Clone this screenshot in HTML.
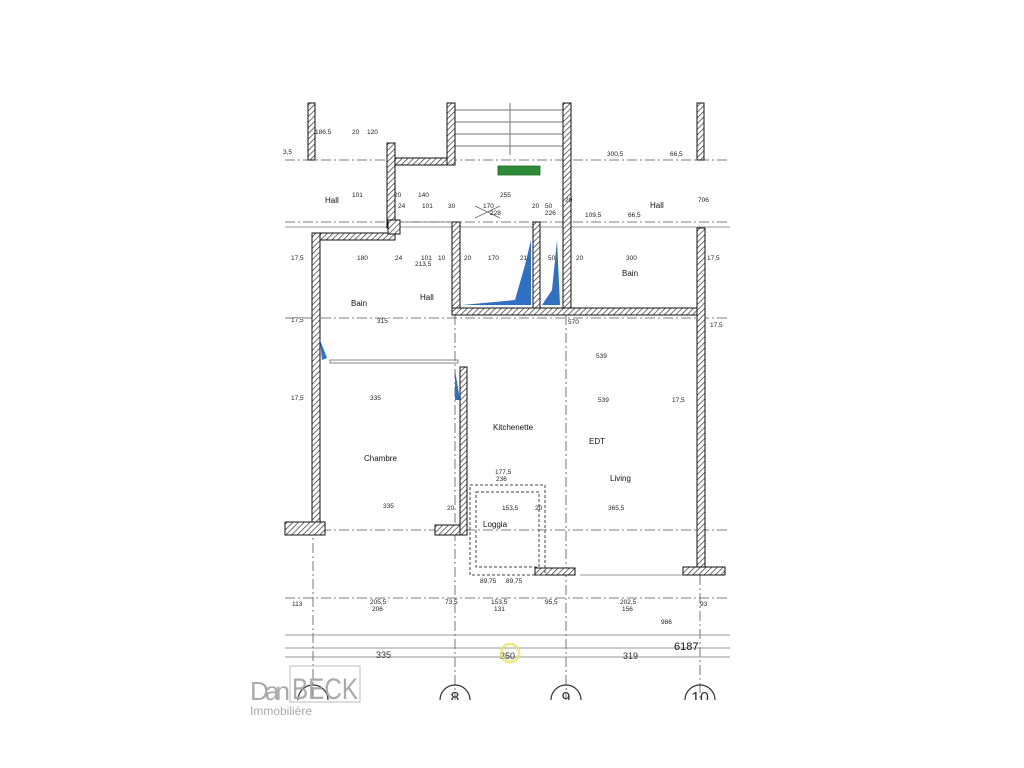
<!DOCTYPE html>
<html><head><meta charset="utf-8"><style>
body{margin:0;background:#fff;}
svg{display:block;font-family:"Liberation Sans",sans-serif;}
</style></head><body>
<svg width="1024" height="768" viewBox="0 0 1024 768" xmlns="http://www.w3.org/2000/svg">
<defs>
<pattern id="h" width="4" height="4" patternUnits="userSpaceOnUse" patternTransform="rotate(45)">
<rect width="4" height="4" fill="#fff"/><line x1="0" y1="0" x2="0" y2="4" stroke="#333" stroke-width="1.4"/></pattern>
</defs>
<rect width="1024" height="768" fill="#fff"/>
<!-- grid dash-dot lines -->
<g stroke="#555" stroke-width="0.8" stroke-dasharray="10,3,2,3" fill="none">
<line x1="313" y1="525" x2="313" y2="700"/>
<line x1="455" y1="315" x2="455" y2="700"/>
<line x1="566" y1="315" x2="566" y2="700"/>
<line x1="700" y1="575" x2="700" y2="700"/>
<line x1="285" y1="160" x2="730" y2="160"/>
<line x1="285" y1="222" x2="730" y2="222"/>
<line x1="285" y1="318" x2="730" y2="318"/>
<line x1="285" y1="530" x2="730" y2="530"/>
<line x1="285" y1="598" x2="730" y2="598"/>
</g>
<g stroke="#777" stroke-width="0.8">
<line x1="285" y1="635" x2="730" y2="635"/>
<line x1="285" y1="648" x2="730" y2="648"/>
<line x1="285" y1="657" x2="730" y2="657"/>
<line x1="285" y1="227" x2="730" y2="227"/>
<line x1="580" y1="575" x2="700" y2="575"/>
</g>
<!-- stairs -->
<g stroke="#777" stroke-width="1">
<line x1="455" y1="110" x2="563" y2="110"/><line x1="455" y1="122" x2="563" y2="122"/>
<line x1="455" y1="134" x2="563" y2="134"/><line x1="455" y1="146" x2="563" y2="146"/>
<line x1="510" y1="103" x2="510" y2="155"/>
</g>
<!-- walls -->
<g fill="url(#h)" stroke="#111" stroke-width="1">
<rect x="308" y="103" width="7" height="57"/>
<rect x="387" y="143" width="8" height="85"/>
<rect x="395" y="158" width="60" height="7"/>
<rect x="447" y="103" width="8" height="62"/>
<rect x="563" y="103" width="8" height="212"/>
<rect x="697" y="103" width="7" height="57"/>
<rect x="313" y="233" width="82" height="7"/>
<rect x="312" y="233" width="8" height="292"/>
<rect x="388" y="220" width="12" height="14"/>
<rect x="452" y="222" width="8" height="93"/>
<rect x="533" y="222" width="7" height="86"/>
<rect x="452" y="308" width="253" height="7"/>
<rect x="697" y="228" width="8" height="340"/>
<rect x="460" y="367" width="7" height="168"/>
<rect x="285" y="522" width="40" height="13"/>
<rect x="435" y="525" width="25" height="10"/>
<rect x="535" y="568" width="40" height="7"/>
<rect x="683" y="567" width="42" height="8"/>
</g>
<!-- blue shapes -->
<g fill="#2f6fc4">
<path d="M462 305 L515 300 L525 265 L531 240 L531 305 Z"/>
<path d="M542 305 L552 290 L557 240 L560 305 Z"/>
<path d="M320 340 L327 358 L322 360 Z"/>
<path d="M455 370 L460 400 L455 400 Z"/>
</g>
<!-- loggia dashed -->
<g stroke="#444" stroke-dasharray="3,2" fill="none" stroke-width="1">
<rect x="470" y="485" width="75" height="90"/>
<rect x="476" y="492" width="63" height="75"/>
</g>
<!-- misc lines -->
<g stroke="#666" stroke-width="0.8" fill="none">
<rect x="330" y="360" width="128" height="3"/>
<line x1="400" y1="222" x2="452" y2="222"/>
<line x1="475" y1="206" x2="500" y2="218"/>
<line x1="475" y1="218" x2="500" y2="206"/>
<rect x="498" y="166" width="42" height="9" fill="#2e8b3a" stroke="#1d6b28"/>
</g>
<!-- labels -->
<g font-size="8" fill="#111">
<text x="325" y="203">Hall</text>
<text x="650" y="208">Hall</text>
<text x="622" y="276">Bain</text>
<text x="351" y="306">Bain</text>
<text x="420" y="300">Hall</text>
<text x="364" y="461">Chambre</text>
<text x="493" y="430">Kitchenette</text>
<text x="610" y="481">Living</text>
<text x="483" y="527">Loggia</text>
<text x="589" y="444">EDT</text>
</g>
<g font-size="6.5" fill="#222">
<text x="315" y="134">186,5</text><text x="352" y="134">20</text><text x="367" y="134">120</text>
<text x="283" y="154">3,5</text><text x="607" y="156">300,5</text><text x="670" y="156">66,5</text>
<text x="352" y="197">101</text><text x="394" y="197">20</text><text x="418" y="197">140</text>
<text x="500" y="197">255</text><text x="398" y="208">24</text><text x="422" y="208">101</text>
<text x="448" y="208">30</text><text x="483" y="208">170</text><text x="490" y="215">228</text>
<text x="532" y="208">20</text><text x="545" y="208">50</text><text x="545" y="215">226</text>
<text x="565" y="202">20</text><text x="698" y="202">706</text><text x="585" y="217">109,5</text><text x="628" y="217">66,5</text>
<text x="291" y="260">17,5</text><text x="357" y="260">180</text><text x="395" y="260">24</text>
<text x="421" y="260">101</text><text x="438" y="260">10</text><text x="415" y="266">213,5</text>
<text x="464" y="260">20</text><text x="488" y="260">170</text><text x="520" y="260">21</text>
<text x="548" y="260">50</text><text x="576" y="260">20</text><text x="626" y="260">300</text>
<text x="707" y="260">17,5</text>
<text x="291" y="322">17,5</text><text x="377" y="323">315</text><text x="568" y="324">570</text><text x="710" y="327">17,5</text>
<text x="370" y="400">335</text><text x="291" y="400">17,5</text><text x="598" y="402">539</text><text x="672" y="402">17,5</text>
<text x="596" y="358">539</text>
<text x="495" y="474">177,5</text><text x="496" y="481">236</text>
<text x="383" y="508">335</text><text x="447" y="510">20</text><text x="502" y="510">153,5</text>
<text x="535" y="510">20</text><text x="608" y="510">365,5</text>
<text x="292" y="606">113</text><text x="370" y="604">205,5</text><text x="372" y="611">206</text>
<text x="445" y="604">73,5</text><text x="491" y="604">153,5</text><text x="494" y="611">131</text>
<text x="545" y="604">95,5</text><text x="620" y="604">202,5</text><text x="622" y="611">156</text>
<text x="700" y="606">93</text><text x="661" y="624">986</text>
<text x="480" y="583">89,75</text><text x="506" y="583">89,75</text>
</g>
<g font-size="9" fill="#333">
<text x="376" y="658">335</text><text x="500" y="659">250</text><text x="623" y="659">319</text>
</g>
<text x="674" y="650" font-size="11" fill="#111">6187</text>
<circle cx="510" cy="653" r="9" fill="none" stroke="#e6e060" stroke-width="3" opacity="0.7"/>
<!-- grid bubbles -->
<g fill="none" stroke="#333" stroke-width="1.2">
<path d="M440 700 A15 15 0 0 1 470 700"/>
<path d="M551 700 A15 15 0 0 1 581 700"/>
<path d="M685 700 A15 15 0 0 1 715 700"/>
<path d="M298 700 A15 15 0 0 1 328 700"/>
</g>
<g font-size="16" fill="#333" text-anchor="middle">
<text x="455" y="703">8</text><text x="566" y="703">9</text><text x="700" y="703">10</text>
</g>
<rect x="0" y="700" width="1024" height="68" fill="#fff"/>
<!-- logo -->
<g fill="#999">
<rect x="290" y="666" width="70" height="36" fill="none" stroke="#bbb"/>
<text x="250" y="700" font-size="26" fill="#aaa" textLength="40">Dan</text>
<text x="292" y="699" font-size="30" fill="#aaa" textLength="66" lengthAdjust="spacingAndGlyphs">BECK</text>
<text x="250" y="715" font-size="12" fill="#aaa">Immobilière</text>
</g>
</svg>
</body></html>
